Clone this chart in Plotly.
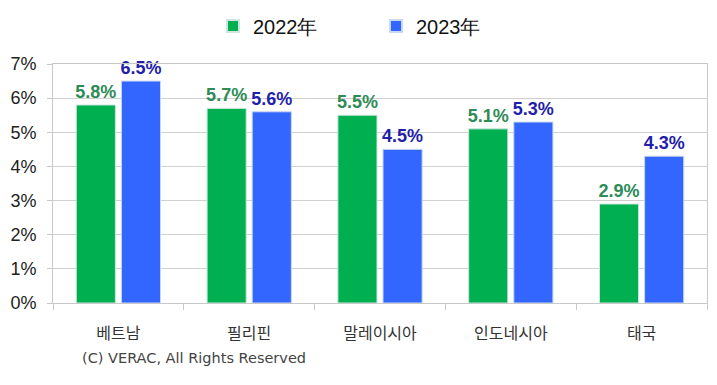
import plotly.graph_objects as go

categories = ["베트남", "필리핀", "말레이시아", "인도네시아", "태국"]
values_2022 = [5.8, 5.7, 5.5, 5.1, 2.9]
values_2023 = [6.5, 5.6, 4.5, 5.3, 4.3]
series_names = ["2022年", "2023年"]
y_ticks = [0, 1, 2, 3, 4, 5, 6, 7]
copyright_text = "(C) VERAC, All Rights Reserved"

fig = go.Figure()
fig.add_trace(go.Bar(
    x=categories, y=values_2022, name=series_names[0],
    marker=dict(color="#00B050", line=dict(color="#cfe6e0", width=1)),
    text=[f"{v:.1f}%" for v in values_2022], textposition="outside",
    textfont=dict(family="Liberation Sans, Arial", size=18, color="#2E8B57", weight="bold"),
    cliponaxis=False,
))
fig.add_trace(go.Bar(
    x=categories, y=values_2023, name=series_names[1],
    marker=dict(color="#3366FF", line=dict(color="#c8d8f0", width=1)),
    text=[f"{v:.1f}%" for v in values_2023], textposition="outside",
    textfont=dict(family="Liberation Sans, Arial", size=18, color="#1F1FAA", weight="bold"),
    cliponaxis=False,
))

fig.update_layout(
    width=717, height=385,
    margin=dict(l=53, r=10, t=64, b=82, autoexpand=False),
    paper_bgcolor="white", plot_bgcolor="white",
    barmode="group", bargap=0.31, bargroupgap=0.133,
    uniformtext=dict(minsize=18, mode="show"),
    font=dict(family="Liberation Sans, Arial", color="#222222"),
    legend=dict(
        orientation="h", x=(213 - 53) / 654, xanchor="left", y=1 + (64 - 26) / 239, yanchor="middle",
        font=dict(family="Liberation Sans, Arial", size=20, color="#111111"),
        entrywidth=118, itemsizing="constant",
    ),
    xaxis=dict(
        type="category", showline=True, linecolor="#C8C8C8", linewidth=1, mirror=True,
        ticks="outside", tickson="boundaries", ticklen=6, tickcolor="#C8C8C8",
        tickfont=dict(family="Noto Sans CJK KR", size=16, color="#333333"),
        ticklabelstandoff=16, showgrid=False, automargin=False,
    ),
    yaxis=dict(
        range=[0, 7], tickvals=y_ticks, ticktext=[f"{t}%" for t in y_ticks],
        showline=True, linecolor="#C8C8C8", linewidth=1, mirror=True,
        ticks="outside", ticklen=5, tickcolor="#C8C8C8",
        gridcolor="#D0D0D0", gridwidth=1, zeroline=False,
        tickfont=dict(family="Liberation Sans, Arial", size=18, color="#222222"),
        ticklabelstandoff=7, automargin=False,
    ),
    annotations=[dict(
        text=copyright_text, xref="paper", yref="paper",
        x=(194 - 53) / 654, y=-(358 - 303) / 239, xanchor="center", yanchor="middle",
        showarrow=False, font=dict(family="DejaVu Sans", size=14.5, color="#444444"),
    )],
)

fig.write_html(
    "out.html",
    config={"displayModeBar": False},
    post_script="document.body.style.margin='0';document.body.style.overflow='hidden';",
)
